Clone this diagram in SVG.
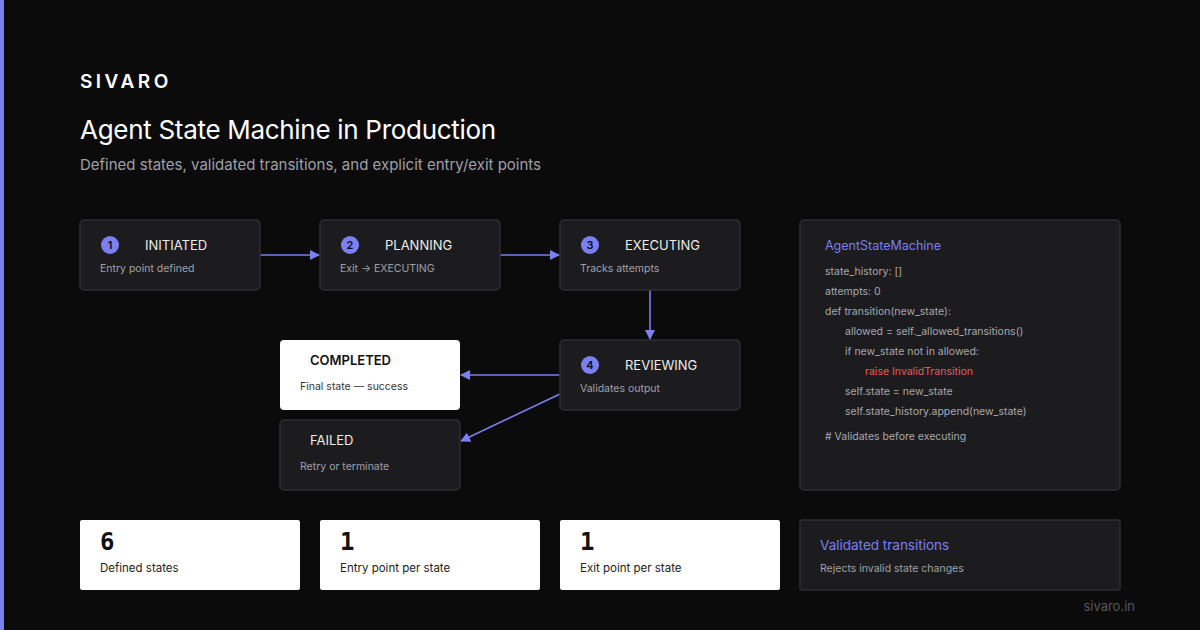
<svg xmlns="http://www.w3.org/2000/svg" width="1200" height="630" viewBox="0 0 1200 630">
<defs>
<style>
text{font-family:Inter,"Liberation Sans",sans-serif}
.box{fill:#1c1c1f;stroke:#2e2e32;stroke-width:1.5}
.wbox{fill:#ffffff}
.t{fill:#ececec;font-size:13px}
.s{fill:#a0a0a6;font-size:10.5px}
.num{fill:#7b7ff0}
.nt{fill:#0b0b0d;font-size:11px;font-weight:600;text-anchor:middle}
.code{fill:#a8a8ae;font-size:10.5px}
.big{fill:#111;font-size:24px;font-weight:600;font-family:"DejaVu Sans Mono","Liberation Mono",monospace}
.bs{fill:#222;font-size:11.5px}
.c{stroke:#7b7ff0;stroke-width:1.6;fill:none;marker-end:url(#a)}
</style>
<marker id="a" markerWidth="10" markerHeight="10" refX="9" refY="5" orient="auto" markerUnits="userSpaceOnUse"><path d="M0,0 L10,5 L0,10 z" fill="#7b7ff0"/></marker>
</defs>
<rect width="1200" height="630" fill="#0b0b0c"/>
<rect width="4" height="630" fill="#7b7ff0"/>
<text x="80" y="88" fill="#fff" font-size="19" font-weight="600" letter-spacing="3.5">SIVARO</text>
<text x="80" y="139" fill="#fff" font-size="26" letter-spacing="-0.3">Agent State Machine in Production</text>
<text x="80" y="170" fill="#a0a0a6" font-size="15">Defined states, validated transitions, and explicit entry/exit points</text>
<g id="connectors">
<line class="c" x1="260" y1="255" x2="319" y2="255"/>
<line class="c" x1="500" y1="255" x2="559" y2="255"/>
<line class="c" x1="650" y1="290" x2="650" y2="339"/>
<line class="c" x1="560" y1="375" x2="461" y2="375"/>
<line class="c" x1="560" y1="394" x2="461" y2="441"/>
</g>
<g id="n1"><rect class="box" x="80" y="220" width="180" height="70" rx="4"/><circle class="num" cx="110" cy="245" r="9"/><text class="nt" x="110" y="249">1</text><text class="t" x="145" y="250">INITIATED</text><text class="s" x="100" y="272">Entry point defined</text></g>
<g id="n2"><rect class="box" x="320" y="220" width="180" height="70" rx="4"/><circle class="num" cx="350" cy="245" r="9"/><text class="nt" x="350" y="249">2</text><text class="t" x="385" y="250">PLANNING</text><text class="s" x="340" y="272">Exit → EXECUTING</text></g>
<g id="n3"><rect class="box" x="560" y="220" width="180" height="70" rx="4"/><circle class="num" cx="590" cy="245" r="9"/><text class="nt" x="590" y="249">3</text><text class="t" x="625" y="250">EXECUTING</text><text class="s" x="580" y="272">Tracks attempts</text></g>
<g id="n4"><rect class="box" x="560" y="340" width="180" height="70" rx="4"/><circle class="num" cx="590" cy="365" r="9"/><text class="nt" x="590" y="369">4</text><text class="t" x="625" y="370">REVIEWING</text><text class="s" x="580" y="392">Validates output</text></g>
<g id="completed"><rect class="wbox" x="280" y="340" width="180" height="70" rx="4"/><text x="310" y="365" fill="#111" font-size="13" font-weight="600">COMPLETED</text><text x="300" y="390" fill="#333" font-size="10.5">Final state — success</text></g>
<g id="failed"><rect class="box" x="280" y="420" width="180" height="70" rx="4"/><text x="310" y="445" fill="#ececec" font-size="13">FAILED</text><text class="s" x="300" y="470">Retry or terminate</text></g>
<g id="code"><rect class="box" x="800" y="220" width="320" height="270" rx="4"/>
<text x="825" y="250" fill="#7b7ff0" font-size="12.5">AgentStateMachine</text>
<text class="code" x="825" y="275">state_history: []</text>
<text class="code" x="825" y="295">attempts: 0</text>
<text class="code" x="825" y="315">def transition(new_state):</text>
<text class="code" x="845" y="335">allowed = self._allowed_transitions()</text>
<text class="code" x="845" y="355">if new_state not in allowed:</text>
<text x="865" y="375" fill="#e25c5c" font-size="10.5">raise InvalidTransition</text>
<text class="code" x="845" y="395">self.state = new_state</text>
<text class="code" x="845" y="415">self.state_history.append(new_state)</text>
<text class="code" x="825" y="440"># Validates before executing</text>
</g>
<g id="stat1"><rect class="wbox" x="80" y="520" width="220" height="70" rx="2"/><text class="big" x="100" y="550">6</text><text class="bs" x="100" y="572">Defined states</text></g>
<g id="stat2"><rect class="wbox" x="320" y="520" width="220" height="70" rx="2"/><text class="big" x="340" y="550">1</text><text class="bs" x="340" y="572">Entry point per state</text></g>
<g id="stat3"><rect class="wbox" x="560" y="520" width="220" height="70" rx="2"/><text class="big" x="580" y="550">1</text><text class="bs" x="580" y="572">Exit point per state</text></g>
<g id="stat4"><rect class="box" x="800" y="520" width="320" height="70" rx="2"/><text x="820" y="550" fill="#7b7ff0" font-size="13.5">Validated transitions</text><text class="s" x="820" y="572" font-size="11.5">Rejects invalid state changes</text></g>
<text x="1135" y="611" fill="#55555a" font-size="13" text-anchor="end">sivaro.in</text>
</svg>
